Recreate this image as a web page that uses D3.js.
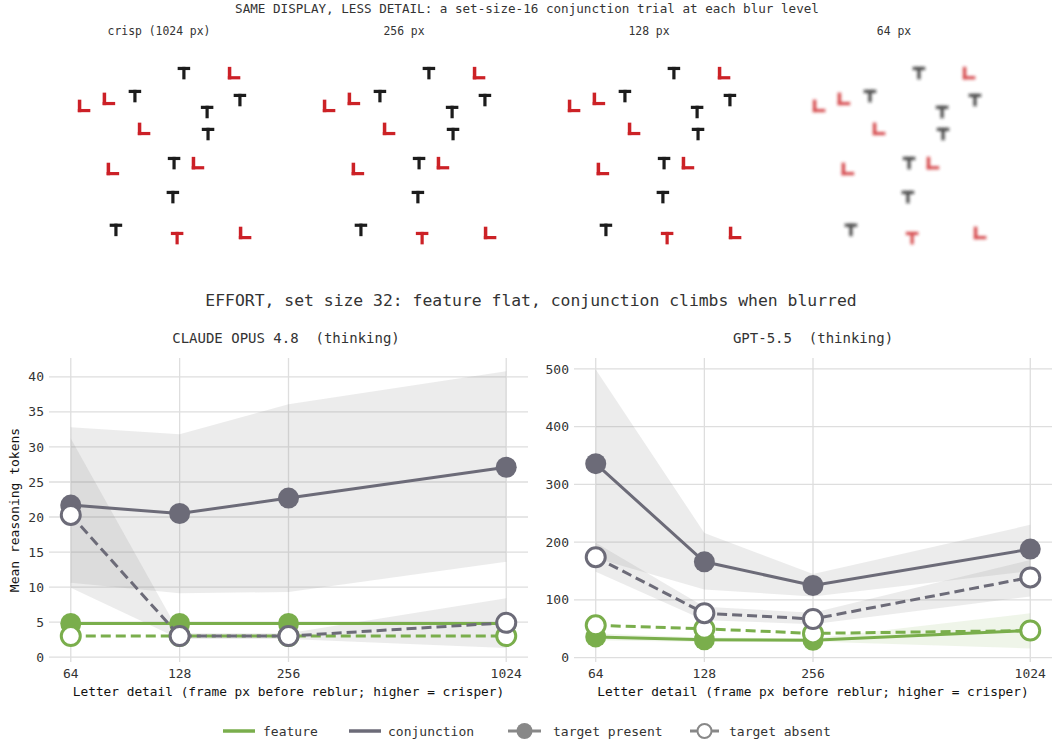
<!DOCTYPE html>
<html lang="en">
<head>
<meta charset="utf-8">
<title>Effort vs letter detail</title>
<script src="https://d3js.org/d3.v7.min.js"></script>
<style>
  body { margin: 0; background: #fff; }
  text { font-family: "DejaVu Sans Mono", monospace; fill: #333; white-space: pre; }
</style>
</head>
<body>
<div id="chart"></div>
<script>
// ---- data ----
// stimulus: one set-size-16 conjunction display (frame units 0..1024)
var letterKind = ["T","L","T","L","L","T","T","L","T","T","L","L","T","T","T","L"];
var letterTarget = [0,0,0,0,0,0,0,0,0,0,0,0,0,0,1,0];
var letterRed = [0,1,0,1,1,0,0,1,0,0,1,1,0,0,1,1];
var letterX = [614,828,405,294,188,713,853,444,717,572,674,311,567,324,585,875];
var letterY = [137,137,235,247,277,303,252,375,397,521,521,546,666,806,841,819];
var blurTitles = ["crisp (1024 px)", "256 px", "128 px", "64 px"];

var levels = [64, 128, 256, 1024];
var tickLabels = ["64", "128", "256", "1024"];

var claudeFeatPresent = [4.8, 4.8, 4.8, 4.8];
var claudeFeatAbsent  = [3.0, 3.0, 3.0, 3.0];
var claudeConjPresent = [21.7, 20.5, 22.7, 27.1];
var claudeConjAbsent  = [20.3, 3.0, 3.0, 4.9];
var claudeConjPresentLo = [10.6, 9.1, 9.3, 13.6];
var claudeConjPresentHi = [32.8, 31.8, 36.1, 40.8];
var claudeConjAbsentLo  = [9.9, 2.6, 2.6, 1.3];
var claudeConjAbsentHi  = [31.2, 3.4, 3.4, 8.4];
var claudeYTicks = [0, 5, 10, 15, 20, 25, 30, 35, 40];

var gptFeatPresent = [36, 31, 30, 47];
var gptFeatAbsent  = [56, 50, 42, 47];
var gptConjPresent = [336, 166, 125, 188];
var gptConjAbsent  = [174, 77, 67, 139];
var gptConjPresentLo = [172, 118, 106, 150];
var gptConjPresentHi = [499, 216, 145, 230];
var gptConjAbsentLo  = [149, 65, 58, 106];
var gptConjAbsentHi  = [199, 88, 78, 169];
var gptFeatPresentLo = [30, 27, 28, 16];
var gptFeatPresentHi = [42, 35, 33, 77];
var gptYTicks = [0, 100, 200, 300, 400, 500];

var GREEN = "#7aae4c", GRAY = "#6c6b78", RED = "#cc2027", INK = "#1c1c1c";

var svg = d3.select("#chart").append("svg")
    .attr("width", 1052).attr("height", 742);

// ---- top strip: same display at four blur levels ----
svg.append("text").attr("x", 527).attr("y", 13)
    .attr("text-anchor", "middle").style("font-size", "12.6px")
    .text("SAME DISPLAY, LESS DETAIL: a set-size-16 conjunction trial at each blur level");

var blurs = [0, 0.35, 0.75, 1.7];
var defs = svg.append("defs");
blurs.forEach(function(b, i) {
  defs.append("filter").attr("id", "blur" + i)
      .attr("x", "-20%").attr("y", "-20%").attr("width", "140%").attr("height", "140%")
    .append("feGaussianBlur").attr("stdDeviation", b);
});

var letters = d3.range(letterKind.length);
blurTitles.forEach(function(t, i) {
  var cx = 159 + i * 245;
  svg.append("text").attr("x", cx).attr("y", 35)
      .attr("text-anchor", "middle").style("font-size", "11.4px").text(t);

  var fx = d3.scaleLinear().domain([0, 1024]).range([cx - 119, cx + 121]);
  var fy = d3.scaleLinear().domain([0, 1024]).range([41, 281]);
  var g = svg.append("g");
  if (blurs[i] > 0) g.attr("filter", "url(#blur" + i + ")");
  if (i === 3) g.attr("opacity", 0.8);

  letters.forEach(function(k) {
    var x = fx(letterX[k]), y = fy(letterY[k]);
    var col = letterRed[k] ? RED : INK;
    var s = 12.5, w = 3.2;
    if (letterKind[k] === "T") {
      g.append("rect").attr("x", x - s / 2).attr("y", y - s / 2).attr("width", s).attr("height", w).attr("fill", col);
      g.append("rect").attr("x", x - w / 2).attr("y", y - s / 2).attr("width", w).attr("height", s).attr("fill", col);
    } else {
      g.append("rect").attr("x", x - s / 2).attr("y", y - s / 2).attr("width", w + 0.3).attr("height", s).attr("fill", col);
      g.append("rect").attr("x", x - s / 2).attr("y", y + s / 2 - w).attr("width", s).attr("height", w).attr("fill", col);
    }
  });
});

// ---- effort charts ----
svg.append("text").attr("x", 531).attr("y", 306)
    .attr("text-anchor", "middle").style("font-size", "16.4px")
    .text("EFFORT, set size 32: feature flat, conjunction climbs when blurred");

function panel(opts) {
  var x = d3.scaleLog().base(2).domain([Math.pow(2, 5.8), Math.pow(2, 10.2)])
      .range([opts.left, opts.right]);
  var y = d3.scaleLinear().domain(opts.ydom).range([662, 358]);
  var g = svg.append("g");

  // grid
  g.selectAll(".hg").data(opts.yTicks).enter().append("line")
      .attr("x1", opts.left).attr("x2", opts.right)
      .attr("y1", function(d) { return y(d); }).attr("y2", function(d) { return y(d); })
      .attr("stroke", "#dedede").attr("stroke-width", 1.3);
  g.selectAll(".vg").data(levels).enter().append("line")
      .attr("x1", function(d) { return x(d); }).attr("x2", function(d) { return x(d); })
      .attr("y1", 358).attr("y2", 662)
      .attr("stroke", "#dedede").attr("stroke-width", 1.3);

  // tick labels
  g.selectAll(".yt").data(opts.yTicks).enter().append("text")
      .attr("x", opts.left - 5).attr("y", function(d) { return y(d); })
      .attr("dy", "0.35em").attr("text-anchor", "end").style("font-size", "13px")
      .text(function(d) { return d; });
  g.selectAll(".xt").data(levels).enter().append("text")
      .attr("x", function(d) { return x(d); }).attr("y", 678)
      .attr("text-anchor", "middle").style("font-size", "13px")
      .text(function(d, i) { return tickLabels[i]; });

  g.append("text").attr("x", (x(64) + x(1024)) / 2).attr("y", 696)
      .attr("text-anchor", "middle").style("font-size", "12.8px").style("fill", "#111")
      .text("Letter detail (frame px before reblur; higher = crisper)");
  g.append("text").attr("x", opts.titleX).attr("y", 343)
      .attr("text-anchor", "middle").style("font-size", "14px")
      .text(opts.title);
  if (opts.ylabel) {
    g.append("text").attr("transform", "translate(19,510) rotate(-90)")
        .attr("text-anchor", "middle").style("font-size", "13px").style("fill", "#111")
        .text(opts.ylabel);
  }

  // confidence bands
  var area = d3.area()
      .x(function(d) { return x(d.lv); })
      .y0(function(d) { return y(d.lo); })
      .y1(function(d) { return y(d.hi); });
  opts.bands.forEach(function(b) {
    var pts = levels.map(function(lv, i) { return {lv: lv, lo: b.lo[i], hi: b.hi[i]}; });
    g.append("path").attr("d", area(pts))
        .attr("fill", b.color).attr("fill-opacity", b.alpha);
  });

  // series
  var line = d3.line()
      .x(function(d) { return x(d.lv); })
      .y(function(d) { return y(d.v); });
  opts.series.forEach(function(s) {
    var pts = levels.map(function(lv, i) { return {lv: lv, v: s.values[i]}; });
    g.append("path").attr("d", line(pts)).attr("fill", "none")
        .attr("stroke", s.color).attr("stroke-width", 3)
        .attr("stroke-dasharray", s.present ? null : "10,5");
    g.selectAll(null).data(pts).enter().append("circle")
        .attr("cx", function(d) { return x(d.lv); })
        .attr("cy", function(d) { return y(d.v); })
        .attr("r", s.present ? 10.5 : 9.5)
        .attr("fill", s.present ? s.color : "#fff")
        .attr("stroke", s.present ? "none" : s.color)
        .attr("stroke-width", 3);
  });
}

panel({
  left: 49, right: 528, ydom: [-0.7, 42.7], yTicks: claudeYTicks,
  title: "CLAUDE OPUS 4.8  (thinking)", titleX: 286, ylabel: "Mean reasoning tokens",
  bands: [
    {lo: claudeConjPresentLo, hi: claudeConjPresentHi, color: "#8a8a8a", alpha: 0.16},
    {lo: claudeConjAbsentLo, hi: claudeConjAbsentHi, color: "#8a8a8a", alpha: 0.16}
  ],
  series: [
    {values: claudeFeatPresent, color: GREEN, present: true},
    {values: claudeFeatAbsent, color: GREEN, present: false},
    {values: claudeConjPresent, color: GRAY, present: true},
    {values: claudeConjAbsent, color: GRAY, present: false}
  ]
});

panel({
  left: 574, right: 1052, ydom: [-7.5, 519], yTicks: gptYTicks,
  title: "GPT-5.5  (thinking)", titleX: 813, ylabel: null,
  bands: [
    {lo: gptFeatPresentLo, hi: gptFeatPresentHi, color: GREEN, alpha: 0.12},
    {lo: gptConjPresentLo, hi: gptConjPresentHi, color: "#8a8a8a", alpha: 0.16},
    {lo: gptConjAbsentLo, hi: gptConjAbsentHi, color: "#8a8a8a", alpha: 0.16}
  ],
  series: [
    {values: gptFeatPresent, color: GREEN, present: true},
    {values: gptFeatAbsent, color: GREEN, present: false},
    {values: gptConjPresent, color: GRAY, present: true},
    {values: gptConjAbsent, color: GRAY, present: false}
  ]
});

// ---- legend ----
var lg = svg.append("g").attr("transform", "translate(0,731)");
lg.append("line").attr("x1", 223).attr("x2", 255).attr("stroke", GREEN).attr("stroke-width", 3.5);
lg.append("text").attr("x", 263).attr("dy", "0.35em").style("font-size", "13px").text("feature");
lg.append("line").attr("x1", 349).attr("x2", 381).attr("stroke", GRAY).attr("stroke-width", 3.5);
lg.append("text").attr("x", 388).attr("dy", "0.35em").style("font-size", "13px").text("conjunction");
lg.append("line").attr("x1", 508).attr("x2", 541).attr("stroke", "#888").attr("stroke-width", 3);
lg.append("circle").attr("cx", 524.5).attr("r", 8).attr("fill", "#888");
lg.append("text").attr("x", 553).attr("dy", "0.35em").style("font-size", "13px").text("target present");
lg.append("line").attr("x1", 690).attr("x2", 719).attr("stroke", "#888").attr("stroke-width", 3);
lg.append("circle").attr("cx", 704.5).attr("r", 7).attr("fill", "#fff").attr("stroke", "#888").attr("stroke-width", 2);
lg.append("text").attr("x", 729).attr("dy", "0.35em").style("font-size", "13px").text("target absent");
</script>
</body>
</html>
